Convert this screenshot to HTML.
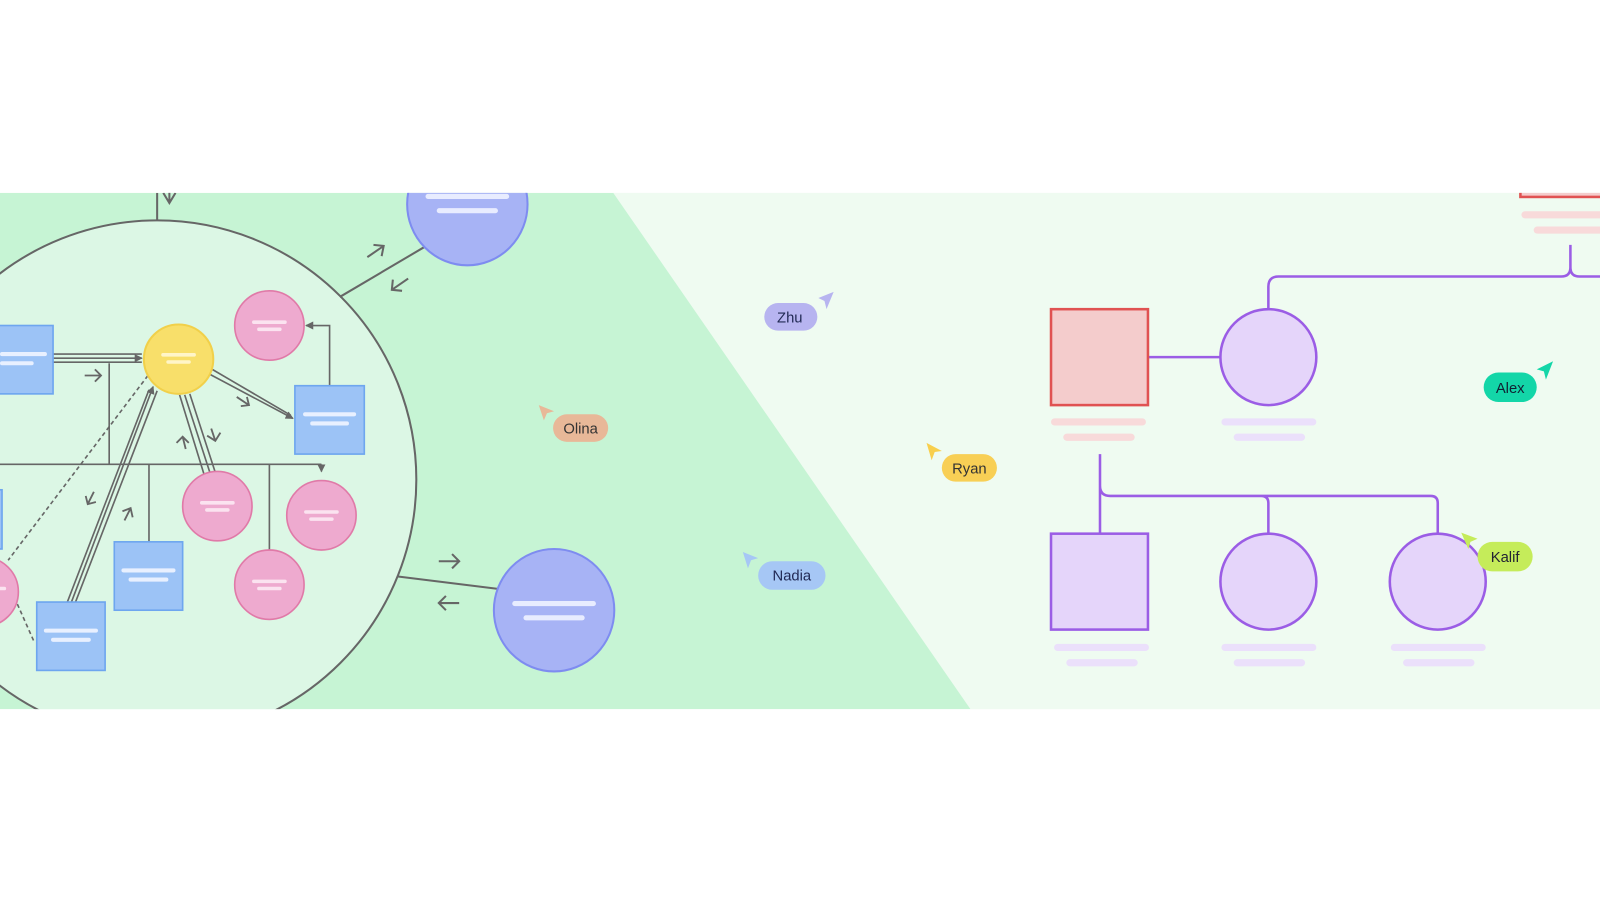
<!DOCTYPE html>
<html><head><meta charset="utf-8"><style>
html,body{margin:0;padding:0;background:#fff;width:1600px;height:900px;overflow:hidden}
svg{display:block}
text{font-family:"Liberation Sans",sans-serif}
</style></head><body>
<svg width="1600" height="900" viewBox="0 0 1568 882" xmlns="http://www.w3.org/2000/svg">
<defs>
<clipPath id="band"><rect x="0" y="189" width="1568" height="506"/></clipPath>
<marker id="ah" markerWidth="8" markerHeight="8" refX="7" refY="4" orient="auto" markerUnits="userSpaceOnUse"><path d="M0,0 L8,4 L0,8 z" fill="#666"/></marker>
</defs>
<rect x="0" y="189" width="1568" height="506" fill="#effbf1"/>
<g clip-path="url(#band)">
<polygon points="0,189 601,189 951,695 0,695" fill="#c6f4d4"/>
<!-- big circle -->
<circle cx="154" cy="470" r="254" fill="#dcf7e5" stroke="#666" stroke-width="2"/>
<line x1="154" y1="216" x2="154" y2="189" stroke="#666" stroke-width="2"/>
<path d="M160,189 L166,199 L172,189 M166,199 L166,186" stroke="#666" stroke-width="2" fill="none"/>
<!-- outer links -->
<line x1="333" y1="291" x2="416" y2="242" stroke="#666" stroke-width="2"/>
<line x1="390" y1="565" x2="487" y2="577" stroke="#666" stroke-width="2"/>
<path d="M360,252 L376,241 M366,240 L376,241 L374,251" stroke="#666" stroke-width="2" fill="none"/>
<path d="M400,273 L384,284 M385,274 L384,284 L394,285" stroke="#666" stroke-width="2" fill="none"/>
<path d="M430,550 L450,550 M443,543 L450,550 L443,557" stroke="#666" stroke-width="2" fill="none"/>
<path d="M450,591 L430,591 M437,584 L430,591 L437,598" stroke="#666" stroke-width="2" fill="none"/>
<!-- purple circles -->
<ellipse cx="458" cy="200" rx="59" ry="60" fill="#a7b3f5" stroke="#7e8cf0" stroke-width="2"/>
<rect x="417" y="190" width="82" height="5" rx="2.5" fill="#e8ecff"/>
<rect x="428" y="204" width="60" height="5" rx="2.5" fill="#e8ecff"/>
<ellipse cx="543" cy="598" rx="59" ry="60" fill="#a7b3f5" stroke="#7e8cf0" stroke-width="2"/>
<rect x="502" y="589" width="82" height="5" rx="2.5" fill="#e8ecff"/>
<rect x="513" y="603" width="60" height="5" rx="2.5" fill="#e8ecff"/>
<!-- inner connectors -->
<g stroke="#666" stroke-width="1.6" fill="none">
<line x1="0" y1="455" x2="315" y2="455"/>
<line x1="315" y1="455" x2="315" y2="462" marker-end="url(#ah)"/>
<line x1="107" y1="356" x2="107" y2="455"/>
<line x1="146" y1="455" x2="146" y2="531"/>
<line x1="264" y1="455" x2="264" y2="539"/>
<line x1="52" y1="347" x2="139" y2="347"/>
<line x1="52" y1="351" x2="139" y2="351" marker-end="url(#ah)"/>
<line x1="52" y1="355" x2="139" y2="355"/>
<line x1="208" y1="362" x2="285" y2="407"/>
<line x1="206" y1="367" x2="287" y2="410" marker-end="url(#ah)"/>
<line x1="176" y1="387" x2="200" y2="465"/>
<line x1="181" y1="387" x2="206" y2="464"/>
<line x1="186" y1="386" x2="211" y2="463"/>
<line x1="66" y1="590" x2="146" y2="382"/>
<line x1="70" y1="590" x2="150" y2="379" marker-end="url(#ah)"/>
<line x1="74" y1="590" x2="154" y2="383"/>
<line x1="145" y1="368" x2="8" y2="549" stroke-dasharray="4,3"/>
<line x1="17" y1="592" x2="33" y2="628" stroke-dasharray="4,3"/>
<path d="M323,378 L323,319 L300,319" marker-end="url(#ah)"/>
</g>
<g stroke="#666" stroke-width="1.8" fill="none">
<path d="M83,368 L99,368 M93,362 L99,368 L93,374"/>
<path d="M232,389 L244,397 M236,398 L244,397 L242,389"/>
<path d="M207,420 L211,432 M203,427 L211,432 L216,424"/>
<path d="M182,440 L179,428 M173,434 L179,428 L185,434"/>
<path d="M92,482 L86,494 M84,486 L86,494 L94,492"/>
<path d="M122,510 L128,498 M120,501 L128,498 L130,507"/>
</g>
<!-- yellow -->
<circle cx="175" cy="352" r="34" fill="#f8df6a" stroke="#f1d04a" stroke-width="2"/>
<rect x="158" y="346" width="34" height="3.5" rx="1.7" fill="#fff5c8"/>
<rect x="163" y="353" width="24" height="3.5" rx="1.7" fill="#fff5c8"/>
<!-- pinks -->
<g fill="#eeaacf" stroke="#e07aa8" stroke-width="1.6">
<circle cx="264" cy="319" r="34"/><circle cx="213" cy="496" r="34"/><circle cx="315" cy="505" r="34"/><circle cx="264" cy="573" r="34"/><circle cx="-16" cy="580" r="34"/>
</g>
<g fill="#fbe3f0">
<rect x="247" y="314" width="34" height="3.5" rx="1.7"/><rect x="252" y="321" width="24" height="3.5" rx="1.7"/>
<rect x="196" y="491" width="34" height="3.5" rx="1.7"/><rect x="201" y="498" width="24" height="3.5" rx="1.7"/>
<rect x="298" y="500" width="34" height="3.5" rx="1.7"/><rect x="303" y="507" width="24" height="3.5" rx="1.7"/>
<rect x="247" y="568" width="34" height="3.5" rx="1.7"/><rect x="252" y="575" width="24" height="3.5" rx="1.7"/>
<rect x="-8" y="575" width="14" height="3.5" rx="1.7"/>
</g>
<!-- blue rects -->
<g fill="#9cc3f6" stroke="#6ea6ef" stroke-width="1.6">
<rect x="-10" y="319" width="62" height="67"/><rect x="289" y="378" width="68" height="67"/><rect x="112" y="531" width="67" height="67"/><rect x="36" y="590" width="67" height="67"/><rect x="-20" y="480" width="22" height="58"/>
</g>
<g fill="#e8f0ff">
<rect x="0" y="345" width="46" height="4" rx="2"/><rect x="0" y="354" width="33" height="4" rx="2"/>
<rect x="297" y="404" width="52" height="4" rx="2"/><rect x="304" y="413" width="38" height="4" rx="2"/>
<rect x="119" y="557" width="53" height="4" rx="2"/><rect x="126" y="566" width="39" height="4" rx="2"/>
<rect x="43" y="616" width="53" height="4" rx="2"/><rect x="50" y="625" width="39" height="4" rx="2"/>
</g>
<!-- right family tree -->
<g stroke="#9b5de5" stroke-width="2.5" fill="none">
<line x1="1125" y1="350" x2="1196" y2="350"/>
<path d="M1243,303 L1243,281 Q1243,271 1253,271 L1530,271 Q1539,271 1539,262 L1539,240 L1539,262 Q1539,271 1548,271 L1568,271"/>
<path d="M1078,445 L1078,523 M1078,476 Q1078,486 1088,486 L1236,486 Q1243,486 1243,493 L1243,523 M1236,486 L1402,486 Q1409,486 1409,493 L1409,523"/>
</g>
<rect x="1030" y="303" width="95" height="94" fill="#f4cccc" stroke="#e05252" stroke-width="2.5"/>
<circle cx="1243" cy="350" r="47" fill="#e5d5fa" stroke="#9b5de5" stroke-width="2.5"/>
<rect x="1030" y="523" width="95" height="94" fill="#e5d5fa" stroke="#9b5de5" stroke-width="2.5"/>
<circle cx="1243" cy="570" r="47" fill="#e5d5fa" stroke="#9b5de5" stroke-width="2.5"/>
<circle cx="1409" cy="570" r="47" fill="#e5d5fa" stroke="#9b5de5" stroke-width="2.5"/>
<rect x="1490" y="170" width="90" height="23" fill="#f4cccc" stroke="#e05252" stroke-width="2.5"/>
<g fill="#f8dada">
<rect x="1030" y="410" width="93" height="7" rx="3.5"/><rect x="1042" y="425" width="70" height="7" rx="3.5"/>
<rect x="1491" y="207" width="90" height="7" rx="3.5"/><rect x="1503" y="222" width="80" height="7" rx="3.5"/>
</g>
<g fill="#ebe0fb">
<rect x="1197" y="410" width="93" height="7" rx="3.5"/><rect x="1209" y="425" width="70" height="7" rx="3.5"/>
<rect x="1033" y="631" width="93" height="7" rx="3.5"/><rect x="1045" y="646" width="70" height="7" rx="3.5"/>
<rect x="1197" y="631" width="93" height="7" rx="3.5"/><rect x="1209" y="646" width="70" height="7" rx="3.5"/>
<rect x="1363" y="631" width="93" height="7" rx="3.5"/><rect x="1375" y="646" width="70" height="7" rx="3.5"/>
</g>
</g>
<!-- cursors & labels -->
<g font-size="14.5" text-anchor="middle">
<path d="M528,397 L543,403 L536,405 L533,412 z" fill="#e8b898"/>
<rect x="542" y="406" width="54" height="27" rx="13.5" fill="#e8b898"/>
<text x="569" y="425" fill="#333">Olina</text>
<path d="M817,286 L802,292 L808,295 L810,303 z" fill="#b7b4f0"/>
<rect x="749" y="297" width="52" height="27" rx="13.5" fill="#b7b4f0"/>
<text x="774" y="316" fill="#222a55">Zhu</text>
<path d="M728,541 L743,547 L736,549 L733,557 z" fill="#a6c7f5"/>
<rect x="743" y="550" width="66" height="28" rx="14" fill="#a6c7f5"/>
<text x="776" y="569" fill="#222a55">Nadia</text>
<path d="M908,434 L923,442 L916,443 L913,451 z" fill="#f8cf4d"/>
<rect x="923" y="445" width="54" height="27" rx="13.5" fill="#f8cf55"/>
<text x="950" y="464" fill="#333">Ryan</text>
<path d="M1522,354 L1506,362 L1513,364 L1515,372 z" fill="#13d6a8"/>
<rect x="1454" y="365" width="52" height="29" rx="14.5" fill="#13d6a8"/>
<text x="1480" y="385" fill="#123">Alex</text>
<path d="M1432,522 L1448,528 L1441,531 L1439,538 z" fill="#c5ec5a"/>
<rect x="1448" y="531" width="54" height="29" rx="14.5" fill="#c5ec5a"/>
<text x="1475" y="551" fill="#223">Kalif</text>
</g>
</svg>
</body></html>
